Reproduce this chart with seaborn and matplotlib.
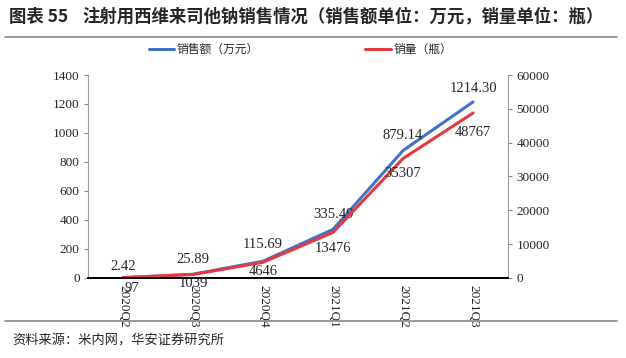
import matplotlib
matplotlib.use("Agg")
import matplotlib.pyplot as plt
import seaborn as sns
import pandas as pd

quarters = ["2020Q2", "2020Q3", "2020Q4", "2021Q1", "2021Q2", "2021Q3"]
sales = [2.42, 25.89, 115.69, 335.49, 879.14, 1214.30]
sales_labels = ["2.42", "25.89", "115.69", "335.49", "879.14", "1214.30"]
volume = [97, 1039, 4646, 13476, 35307, 48767]
left_ticks = [0, 200, 400, 600, 800, 1000, 1200, 1400]
right_ticks = [0, 10000, 20000, 30000, 40000, 50000, 60000]

sns.set_style("white")
plt.rcParams['font.family'] = ['Liberation Serif', 'Noto Sans CJK SC', 'DejaVu Sans']

df = pd.DataFrame({"quarter": quarters, "sales": sales, "volume": volume})

fig = plt.figure(figsize=(6.26, 3.58), dpi=100)
ax = fig.add_axes([0.1406, 0.2235, 0.671, 0.567])
blue = "#4472C4"
red = "#E53841"

sns.lineplot(data=df, x="quarter", y="sales", ax=ax, color=blue, linewidth=2.2, sort=False,
             label="销售额（万元）", legend=False)
ax2 = ax.twinx()
sns.lineplot(data=df, x="quarter", y="volume", ax=ax2, color=red, linewidth=2.2, sort=False,
             label="销量（瓶）", legend=False)

ax.set_xlim(-0.5, 5.5)
ax.set_ylim(0, 1400)
ax2.set_ylim(0, 60000)
ax.set_yticks(left_ticks)
ax2.set_yticks(right_ticks)
ax.set_xlabel("")
ax.set_ylabel("")
ax2.set_ylabel("")

ax.set_xticks(range(len(quarters)))
ax.set_xticklabels(quarters, rotation=270, fontsize=9.5, color="#222222")
ax.tick_params(axis="x", length=0, pad=5)
ax.set_xticks([i + 0.5 for i in range(-1, 6)], minor=True)
ax.tick_params(axis="x", which="minor", length=4, direction="out", color="#555555")
ax.tick_params(axis="y", labelsize=9.5, length=3, color="#888888", direction="out", pad=3)
ax2.tick_params(axis="y", labelsize=9.5, length=3, color="#888888", direction="out", pad=3)

for a in (ax, ax2):
    a.spines["top"].set_visible(False)
    a.spines["left"].set_color("#999999")
    a.spines["right"].set_color("#999999")
    a.spines["bottom"].set_color("black")
    a.spines["bottom"].set_linewidth(1.3)
    for s in ("left", "right"):
        a.spines[s].set_linewidth(0.8)
ax.spines["right"].set_visible(False)
ax2.spines["left"].set_visible(False)

blue_offsets = [(0, 3), (0, 6), (0, 7), (0, 6), (0, 6), (0, 5)]
for i, (v, lab) in enumerate(zip(sales, sales_labels)):
    dx, dy = blue_offsets[i]
    ax.annotate(lab, (i, v), xytext=(dx, dy), textcoords="offset points",
                ha="center", va="bottom", fontsize=10.5)
red_offsets = [(6, -3), (0, -2), (0, -2), (0, -7), (0, -6), (0, -9)]
for i, v in enumerate(volume):
    dx, dy = red_offsets[i]
    ax2.annotate(f"{v}", (i, v), xytext=(dx, dy), textcoords="offset points",
                 ha="center", va="top", fontsize=10.5)

handles = ax.get_lines()[:1] + ax2.get_lines()[:1]
fig.legend(handles, ["销售额（万元）", "销量（瓶）"], loc="center", bbox_to_anchor=(0.48, 0.862),
           ncol=2, frameon=False, handlelength=2.2, handletextpad=0.2,
           columnspacing=9, prop={"family": ["Noto Sans CJK SC"], "size": 8.5})

fig.text(0.014, 0.953, "图表 55", fontsize=12.5, fontweight="bold",
         family=["Noto Sans CJK SC"], va="center")
fig.text(0.131, 0.953, "注射用西维来司他钠销售情况（销售额单位：万元，销量单位：瓶）",
         fontsize=12.5, fontweight="bold", family=["Noto Sans CJK SC"], va="center")
fig.add_artist(plt.Line2D([0.008, 0.985], [0.897, 0.897], color="#888888", linewidth=1.2))
fig.add_artist(plt.Line2D([0.008, 0.985], [0.103, 0.103], color="#888888", linewidth=1.2))
fig.text(0.02, 0.047, "资料来源：米内网，华安证券研究所", fontsize=9.5,
         family=["Noto Sans CJK SC"], va="center")

fig.savefig("out.png", dpi=100)
